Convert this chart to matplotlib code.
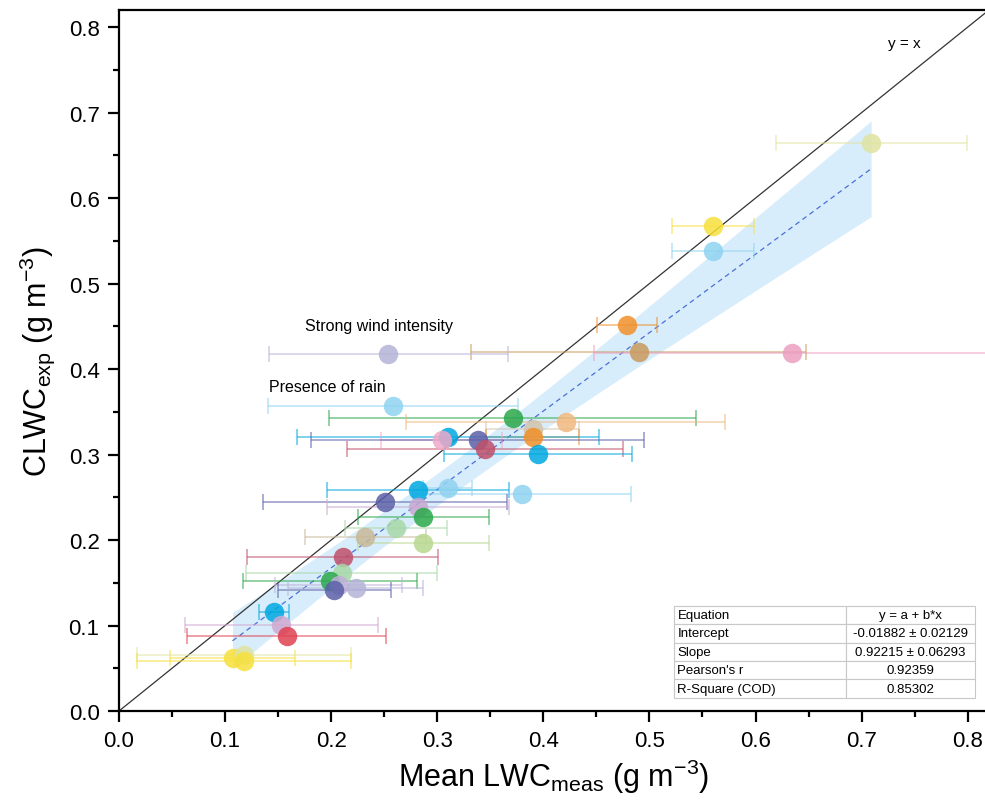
import numpy as np
import matplotlib
matplotlib.use("Agg")
import matplotlib.pyplot as plt

plt.rcParams['font.family'] = ['Liberation Sans', 'DejaVu Sans']
plt.rcParams['mathtext.fontset'] = 'custom'
plt.rcParams['mathtext.rm'] = 'Liberation Sans'
plt.rcParams['mathtext.it'] = 'Liberation Sans'

# mean measured LWC, expected CLWC, x error (g m-3)
lwc_meas = [0.709, 0.560, 0.560, 0.479, 0.490, 0.634, 0.254, 0.258, 0.371, 0.421,
            0.390, 0.390, 0.310, 0.304, 0.338, 0.345, 0.395, 0.282, 0.310, 0.380,
            0.251, 0.282, 0.287, 0.261, 0.232, 0.287, 0.211, 0.210, 0.199, 0.207,
            0.203, 0.223, 0.146, 0.153, 0.158, 0.107, 0.118, 0.118]
clwc_exp = [0.665, 0.567, 0.538, 0.452, 0.420, 0.419, 0.418, 0.357, 0.343, 0.338,
            0.330, 0.320, 0.320, 0.317, 0.317, 0.307, 0.301, 0.259, 0.261, 0.254,
            0.244, 0.239, 0.227, 0.214, 0.203, 0.197, 0.180, 0.162, 0.152, 0.147,
            0.142, 0.144, 0.116, 0.101, 0.088, 0.062, 0.066, 0.059]
lwc_err = [0.090, 0.039, 0.039, 0.028, 0.158, 0.186, 0.113, 0.118, 0.173, 0.150,
           0.044, 0.044, 0.142, 0.057, 0.157, 0.130, 0.089, 0.086, 0.023, 0.103,
           0.115, 0.086, 0.062, 0.048, 0.057, 0.062, 0.090, 0.090, 0.082, 0.060,
           0.053, 0.064, 0.014, 0.091, 0.094, 0.059, 0.101, 0.101]
point_colors = ['#dfe3a0', '#f7e03c', '#8fd3f0', '#f0902a', '#c99a5e', '#eb9fbf', '#b4b4d8',
                '#8fd3f0', '#2aa84a', '#f0b880', '#d2c4ae', '#f0902a', '#00a8e0', '#f0a8c8',
                '#5a60a8', '#c0506a', '#00a8e0', '#00a8e0', '#8fd3f0', '#8fd3f0', '#5a60a8',
                '#c8a8d0', '#2aa84a', '#a8d8a8', '#c8b898', '#b8d890', '#c0506a', '#a8d8a8',
                '#2aa84a', '#c0b0d8', '#5a60a8', '#b4b4d8', '#00a8e0', '#d0a8d0', '#e04050',
                '#f7e03c', '#dfe3a0', '#f7e03c']

fit_rows = [["Equation", "y = a + b*x"],
            ["Intercept", "-0.01882 \u00b1 0.02129"],
            ["Slope", "0.92215 \u00b1 0.06293"],
            ["Pearson's r", "0.92359"],
            ["R-Square (COD)", "0.85302"]]

x = np.array(lwc_meas)
y = np.array(clwc_exp)

fig = plt.figure(figsize=(9.85, 8.04), dpi=100)
ax = fig.add_axes([0.1208, 0.1144, 0.8832, 0.8719])

# linear fit with 95% confidence band
b, a = np.polyfit(x, y, 1)
n = len(x)
resid = y - (a + b * x)
s = np.sqrt(np.sum(resid ** 2) / (n - 2))
sxx = np.sum((x - x.mean()) ** 2)
xg = np.linspace(x.min(), x.max(), 200)
yg = a + b * xg
half = 2.028 * s * np.sqrt(1 / n + (xg - x.mean()) ** 2 / sxx)
ax.fill_between(xg, yg - half, yg + half, color='#cfe9fb', alpha=0.8, lw=0, zorder=1)
ax.plot(xg, yg, ls=(0, (4, 3)), color='#4a6fd8', lw=0.9, zorder=2)

ax.axline((0, 0), slope=1, color='#333333', lw=0.9, zorder=2)

for xi, yi, ei, c in zip(lwc_meas, clwc_exp, lwc_err, point_colors):
    ax.errorbar(xi, yi, xerr=ei, fmt='none', ecolor=c, elinewidth=1.3,
                capsize=5.5, capthick=1.3, alpha=0.55, zorder=3)
for xi, yi, c in zip(lwc_meas, clwc_exp, point_colors):
    ax.plot(xi, yi, 'o', ms=14, mfc=c, mec='none', alpha=0.85, zorder=4)

ax.text(0.740, 0.782, "y = x", fontsize=11, ha='center', va='center')
ax.text(0.245, 0.451, "Strong wind intensity", fontsize=11.5, ha='center', va='center')
ax.text(0.196, 0.380, "Presence of rain", fontsize=11.5, ha='center', va='center')

tab = ax.table(cellText=fit_rows, colWidths=[0.571, 0.429],
               bbox=[0.638, 0.019, 0.346, 0.131], zorder=6)
tab.auto_set_font_size(False)
for (r, c), cell in tab.get_celld().items():
    cell.set_edgecolor('#c8c8c8')
    cell.set_linewidth(0.8)
    cell.set_facecolor('white')
    cell.get_text().set_fontsize(9.5)
    cell.get_text().set_ha('left' if c == 0 else 'center')
    cell.PAD = 0.02

ax.set_xlim(0, 0.82)
ax.set_ylim(0, 0.82)
ax.set_xticks(np.arange(0, 0.81, 0.1))
ax.set_yticks(np.arange(0, 0.81, 0.1))
ax.set_xticks(np.arange(0.05, 0.82, 0.1), minor=True)
ax.set_yticks(np.arange(0.05, 0.82, 0.1), minor=True)
ax.xaxis.set_major_formatter(matplotlib.ticker.FormatStrFormatter('%.1f'))
ax.yaxis.set_major_formatter(matplotlib.ticker.FormatStrFormatter('%.1f'))
ax.tick_params(which='major', direction='out', length=8, width=1.6, labelsize=16, pad=6)
ax.tick_params(which='minor', direction='out', length=4.5, width=1.6)
for sp in ax.spines.values():
    sp.set_linewidth(1.6)

ax.set_xlabel(r"Mean LWC$_{\mathrm{meas}}$ (g m$^{-3}$)", fontsize=22, labelpad=4)
ax.set_ylabel(r"CLWC$_{\mathrm{exp}}$ (g m$^{-3}$)", fontsize=22, labelpad=8)

fig.savefig("out.png", dpi=100)
